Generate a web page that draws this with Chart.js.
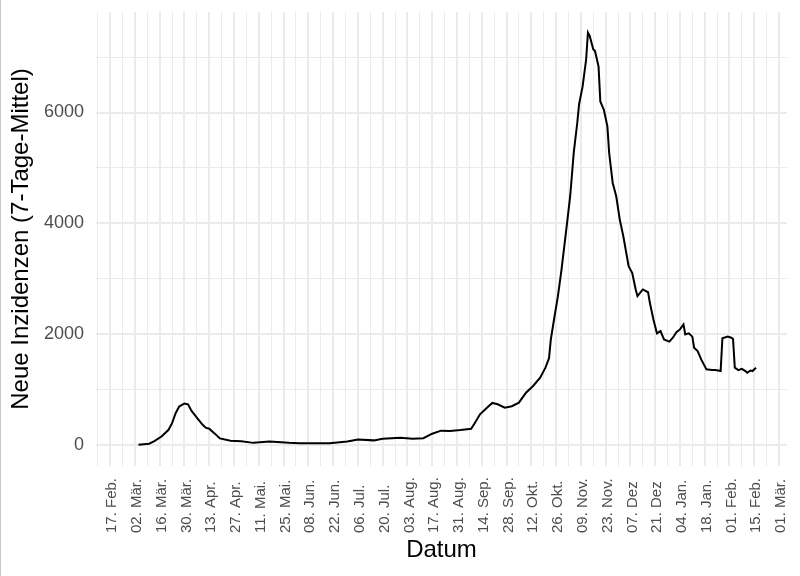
<!DOCTYPE html>
<html>
<head>
<meta charset="utf-8">
<script src="https://cdn.jsdelivr.net/npm/chart.js@4.4.0/dist/chart.umd.min.js"></script>
<style>
  html, body { margin: 0; padding: 0; background: #fff; }
  #wrap { width: 799px; height: 576px; border-left: 1px solid #c8c8c8; }
</style>
</head>
<body>
<div id="wrap"><canvas id="chart" width="799" height="576"></canvas></div>
<script>
// Neue Inzidenzen, 7-Tage-Mittel
const startDate = '2020-02-17';

const dates = [
  '2020-03-04', '2020-03-10', '2020-03-13', '2020-03-17', '2020-03-21', '2020-03-23',
  '2020-03-25', '2020-03-27', '2020-03-30', '2020-04-01', '2020-04-03', '2020-04-06',
  '2020-04-09', '2020-04-11', '2020-04-13', '2020-04-16', '2020-04-19', '2020-04-25',
  '2020-05-01', '2020-05-08', '2020-05-17', '2020-05-28', '2020-06-03', '2020-06-20',
  '2020-06-30', '2020-07-06', '2020-07-15', '2020-07-20', '2020-07-30', '2020-08-06',
  '2020-08-12', '2020-08-17', '2020-08-22', '2020-08-27', '2020-09-02', '2020-09-08',
  '2020-09-10', '2020-09-13', '2020-09-18', '2020-09-20', '2020-09-23', '2020-09-27',
  '2020-10-01', '2020-10-05', '2020-10-09', '2020-10-13', '2020-10-17', '2020-10-20',
  '2020-10-22', '2020-10-23', '2020-10-25', '2020-10-27', '2020-10-29', '2020-11-01',
  '2020-11-03', '2020-11-05', '2020-11-07', '2020-11-08', '2020-11-10', '2020-11-12',
  '2020-11-13', '2020-11-14', '2020-11-16', '2020-11-17', '2020-11-19', '2020-11-20',
  '2020-11-22', '2020-11-24', '2020-11-25', '2020-11-27', '2020-11-29', '2020-12-01',
  '2020-12-03', '2020-12-06', '2020-12-08', '2020-12-10', '2020-12-11', '2020-12-14',
  '2020-12-17', '2020-12-18', '2020-12-20', '2020-12-22', '2020-12-24', '2020-12-26',
  '2020-12-29', '2020-12-31', '2021-01-02', '2021-01-04', '2021-01-06', '2021-01-07',
  '2021-01-09', '2021-01-11', '2021-01-12', '2021-01-14', '2021-01-16', '2021-01-19',
  '2021-01-22', '2021-01-24', '2021-01-27', '2021-01-28', '2021-01-31', '2021-02-02',
  '2021-02-03', '2021-02-04', '2021-02-06', '2021-02-08', '2021-02-10', '2021-02-11',
  '2021-02-13', '2021-02-14', '2021-02-16'
];

const incidence = [
  12, 30, 75, 160, 280, 400,
  580, 700, 755, 740, 620, 500,
  380, 318, 300, 216, 125, 85,
  75, 45, 70, 45, 38, 36,
  70, 105, 90, 120, 138, 120,
  130, 210, 265, 260, 275, 300,
  400, 560, 708, 765, 740, 680,
  705, 770, 950, 1070, 1220, 1400,
  1570, 1900, 2300, 2680, 3150, 3950,
  4500, 5280, 5820, 6150, 6470, 6960,
  7440, 7380, 7140, 7110, 6830, 6200,
  6050, 5750, 5270, 4730, 4490, 4070,
  3770, 3230, 3110, 2810, 2690, 2810,
  2760, 2570, 2270, 2020, 2060, 1910,
  1870, 1940, 2040, 2090, 2180, 2000,
  2020, 1960, 1760, 1700, 1550, 1370,
  1357, 1360, 1340, 1930, 1960, 1940,
  1920, 1400, 1357, 1380, 1340, 1310,
  1350, 1340, 1400
];

const xTickLabels = [
  '17. Feb.', '02. Mär.', '16. Mär.', '30. Mär.', '13. Apr.', '27. Apr.', '11. Mai.',
  '25. Mai.', '08. Jun.', '22. Jun.', '06. Jul.', '20. Jul.', '03. Aug.', '17. Aug.',
  '31. Aug.', '14. Sep.', '28. Sep.', '12. Okt.', '26. Okt.', '09. Nov.', '23. Nov.',
  '07. Dez', '21. Dez', '04. Jan.', '18. Jan.', '01. Feb.', '15. Feb.', '01. Mär.'
];
const yTickLabels = ['0', '2000', '4000', '6000'];

const dayOf = d => (Date.parse(d) - Date.parse(startDate)) / 86400000;
const font = 'Liberation Sans, Arial, sans-serif';

// ggplot puts the start of each rotated date label on one line, so the
// labels are drawn here, left aligned, at the x scale's tick pixels
const dateLabels = {
  id: 'dateLabels',
  afterDraw(chart) {
    const sc = chart.scales.x;
    const c = chart.ctx;
    c.save();
    c.fillStyle = '#4D4D4D';
    c.font = '15px ' + font;
    c.textAlign = 'left';
    c.textBaseline = 'middle';
    xTickLabels.forEach((label, i) => {
      const x = sc.getPixelForValue(i * 14) + 2;
      c.save();
      c.translate(x, sc.top + 67);
      c.rotate(-Math.PI / 2);
      c.fillText(label, 0, 0);
      c.restore();
    });
    c.restore();
  }
};

const noPadding = scale => {
  scale.paddingTop = 0;
  scale.paddingBottom = 0;
  scale.paddingLeft = 0;
  scale.paddingRight = 0;
};

const ctx = document.getElementById('chart').getContext('2d');

new Chart(ctx, {
  type: 'line',
  data: {
    datasets: [{
      data: dates.map((d, i) => ({ x: dayOf(d), y: incidence[i] })),
      borderColor: '#000000',
      borderWidth: 2,
      pointRadius: 0,
      tension: 0,
      fill: false,
    }]
  },
  options: {
    responsive: false,
    animation: false,
    layout: { padding: { top: 12, right: 13, left: 0, bottom: 0 } },
    plugins: {
      legend: { display: false },
      tooltip: { enabled: false },
    },
    scales: {
      x: {
        type: 'linear',
        min: -8,
        max: 382.5,
        afterBuildTicks: scale => {
          const ticks = [];
          for (let v = -7; v <= 378; v += 7) ticks.push({ value: v });
          scale.ticks = ticks;
        },
        afterFit: scale => { scale.height = 110; noPadding(scale); },
        border: { display: false },
        grid: {
          color: '#EBEBEB',
          lineWidth: c => (c.tick && c.tick.value % 14 === 0) ? 2 : 1,
          drawTicks: false,
        },
        ticks: { display: false, autoSkip: false },
        title: {
          display: true,
          text: 'Datum',
          color: '#000000',
          font: { family: font, size: 24 },
          padding: { top: 0, bottom: 11 },
        },
      },
      y: {
        type: 'linear',
        min: -372,
        max: 7812,
        afterBuildTicks: scale => {
          const ticks = [];
          for (let v = 0; v <= 7000; v += 1000) ticks.push({ value: v });
          scale.ticks = ticks;
        },
        afterFit: scale => { scale.width = 95; noPadding(scale); },
        border: { display: false },
        grid: {
          color: '#EBEBEB',
          lineWidth: c => (c.tick && c.tick.value % 2000 === 0) ? 2 : 1,
          drawTicks: false,
        },
        ticks: {
          autoSkip: false,
          padding: 12,
          color: '#4D4D4D',
          font: { family: font, size: 18 },
          callback: v => v % 2000 === 0 ? yTickLabels[v / 2000] : '',
        },
        title: {
          display: true,
          text: 'Neue Inzidenzen (7-Tage-Mittel)',
          color: '#000000',
          font: { family: font, size: 24 },
          padding: { top: 6, bottom: 0 },
        },
      },
    },
  },
  plugins: [dateLabels],
});
</script>
</body>
</html>
